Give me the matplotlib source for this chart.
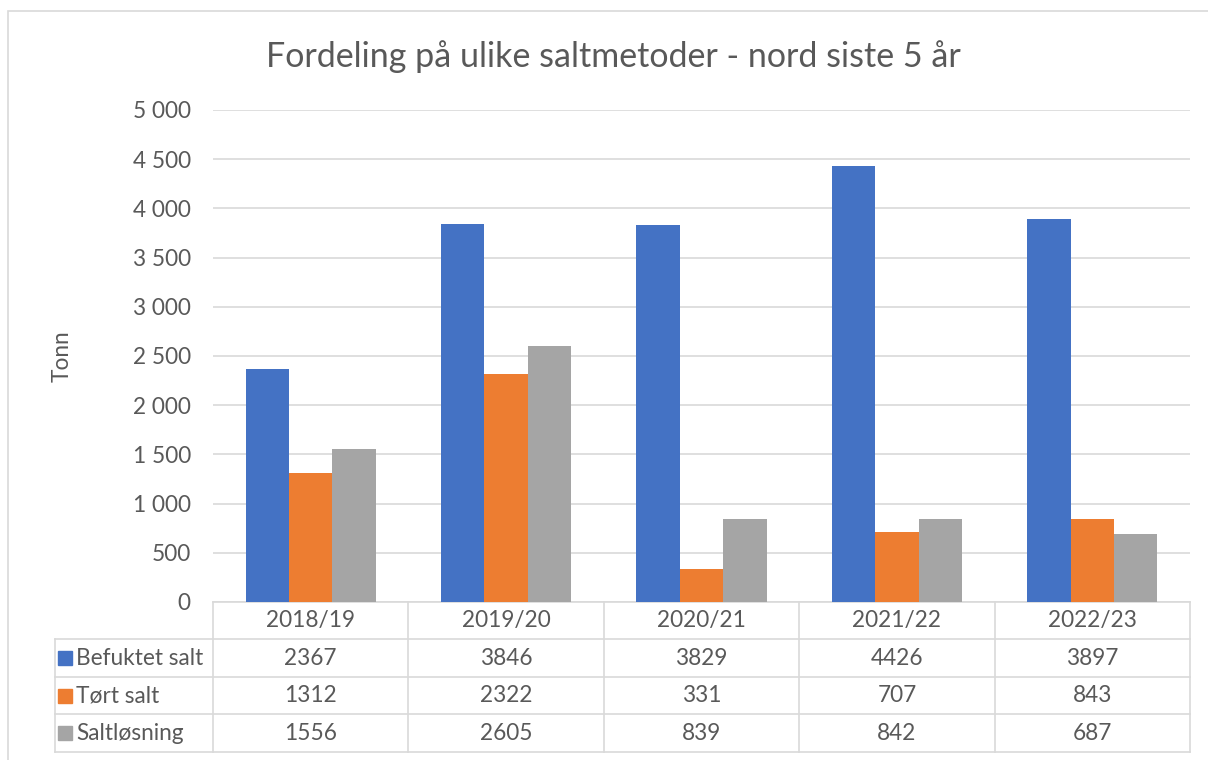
import matplotlib
matplotlib.use('Agg')
import matplotlib.pyplot as plt
import matplotlib.ticker as ticker
from matplotlib.patches import Rectangle
import numpy as np

# data
categories = ["2018/19", "2019/20", "2020/21", "2021/22", "2022/23"]
series_names = ["Befuktet salt", "Tørt salt", "Saltløsning"]
befuktet = [2367, 3846, 3829, 4426, 3897]
tort = [1312, 2322, 331, 707, 843]
saltlosning = [1556, 2605, 839, 842, 687]
series_values = [befuktet, tort, saltlosning]
colors = ["#4472C4", "#ED7D31", "#A5A5A5"]
yticks = [0, 500, 1000, 1500, 2000, 2500, 3000, 3500, 4000, 4500, 5000]

text_col = "#595959"
grid_col = "#D9D9D9"
fs = 16.3
plt.rcParams['font.family'] = ['Lato', 'DejaVu Sans']

fig = plt.figure(figsize=(12.08, 7.6), dpi=100)
# chart border
fig.patches.append(Rectangle((8 / 1208, -0.1), 1.2, 1 - 11 / 760 + 0.1,
                             transform=fig.transFigure, fill=False,
                             edgecolor=grid_col, linewidth=1.2))

ax = fig.add_axes([213 / 1208, (760 - 602) / 760, 977 / 1208, 492 / 760])

x = np.arange(len(categories))
w = 0.222
for i, (vals, col) in enumerate(zip(series_values, colors)):
    ax.bar(x + (i - 1) * w, vals, width=w, color=col, zorder=3)

ax.set_xlim(-0.5, len(categories) - 0.5)
ax.set_ylim(0, 5000)
ax.set_yticks(yticks)
ax.yaxis.set_major_formatter(ticker.FuncFormatter(
    lambda v, p: "{:,}".format(int(v)).replace(",", " ")))
ax.tick_params(axis='y', length=0, pad=16, labelsize=fs, labelcolor=text_col)
ax.set_xticks([])
ax.grid(axis='y', color=grid_col, linewidth=1.2, zorder=0)
for s in ax.spines.values():
    s.set_visible(False)

ax.set_ylabel("Tonn", fontsize=fs, color=text_col, labelpad=0)
ax.yaxis.set_label_coords(-0.144, 0.5)

fig.text(613 / 1208, (760 - 57) / 760,
         "Fordeling på ulike saltmetoder - nord siste 5 år",
         ha='center', va='center', fontsize=24.5, color=text_col)

# data table under the plot
tr = ax.get_xaxis_transform()
row_h = 0.0762
n_rows = len(series_names) + 1
bottom = -row_h * n_rows
label_left = -0.5 - 158 / 195.4
lw = 1.2

# horizontal lines
ax.plot([-0.5, len(categories) - 0.5], [0, 0], transform=tr, color=grid_col,
        lw=lw, clip_on=False)
for r in range(1, n_rows + 1):
    ax.plot([label_left, len(categories) - 0.5], [-row_h * r] * 2, transform=tr,
            color=grid_col, lw=lw, clip_on=False)
# vertical lines
for c in range(len(categories) + 1):
    ax.plot([c - 0.5] * 2, [0, bottom], transform=tr, color=grid_col, lw=lw,
            clip_on=False)
ax.plot([label_left] * 2, [-row_h, bottom], transform=tr, color=grid_col,
        lw=lw, clip_on=False)

# header
for c, cat in enumerate(categories):
    ax.text(c, -row_h * 0.5, cat, transform=tr, ha='center', va='center',
            fontsize=fs, color=text_col)
# rows
for r, (name, vals, col) in enumerate(zip(series_names, series_values, colors)):
    yc = -row_h * (r + 1.5)
    ax.plot([label_left + 0.05], [yc], transform=tr, marker='s', markersize=10,
            color=col, clip_on=False, linestyle='none')
    ax.text(label_left + 0.11, yc, name, transform=tr, ha='left', va='center',
            fontsize=fs, color=text_col)
    for c, v in enumerate(vals):
        ax.text(c, yc, str(v), transform=tr, ha='center', va='center',
                fontsize=fs, color=text_col)

fig.savefig("out.png", dpi=100)
